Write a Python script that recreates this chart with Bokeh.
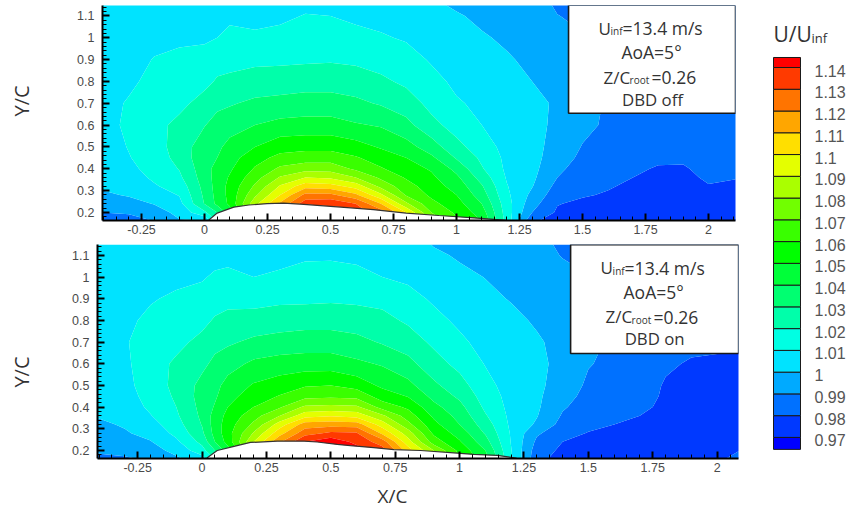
from bokeh.plotting import figure
from bokeh.layouts import column, row
from bokeh.models import Range1d, FixedTicker, NumeralTickFormatter, Label
from bokeh.core.properties import value
from bokeh.embed import file_html
from bokeh.resources import INLINE
import numpy as np

x_grid = [-0.41,-0.3,-0.2,-0.1,0,0.05,0.1,0.2,0.3,0.4,0.5,0.6,0.7,0.8,0.9,1.0,1.1,1.2,1.3,1.4,1.5,1.6,1.7,1.8,1.9,2.0,2.11]
y_grid = [0.16,0.2,0.24,0.28,0.32,0.36,0.4,0.45,0.5,0.6,0.7,0.8,0.9,1.0,1.1,1.15]

# U/Uinf per x column (DBD off)
u_off = [
[.984,.99,.9945,.998,1.0015,1.003,1.004,1.005,1.005,1.006,1.006,1.005,1.004,1.004,1.004,1.004],
[.986,.991,.996,1.001,1.004,1.006,1.008,1.0095,1.0105,1.012,1.011,1.008,1.006,1.005,1.004,1.004],
[.99,.995,1.0005,1.005,1.009,1.0115,1.013,1.015,1.016,1.017,1.016,1.013,1.0105,1.007,1.005,1.004],
[.999,1.003,1.007,1.0105,1.014,1.018,1.0205,1.023,1.024,1.0225,1.0175,1.015,1.0125,1.008,1.005,1.004],
[1.0,1.018,1.0305,1.032,1.0335,1.035,1.036,1.0375,1.036,1.0295,1.0235,1.0175,1.0135,1.0085,1.006,1.005],
[1.02,1.03,1.0425,1.0435,1.044,1.044,1.0435,1.04,1.038,1.034,1.0275,1.021,1.0165,1.01,1.0075,1.006],
[1.03,1.045,1.052,1.053,1.053,1.051,1.0485,1.046,1.043,1.036,1.029,1.022,1.017,1.012,1.0085,1.0065],
[1.07,1.08,1.087,1.078,1.0715,1.066,1.061,1.056,1.05,1.04,1.032,1.024,1.018,1.012,1.0065,1.005],
[1.1,1.105,1.112,1.10,1.091,1.081,1.072,1.063,1.056,1.043,1.033,1.025,1.018,1.013,1.008,1.005],
[1.13,1.132,1.136,1.123,1.106,1.09,1.076,1.065,1.057,1.044,1.034,1.026,1.0185,1.015,1.0105,1.008],
[1.14,1.14,1.138,1.1225,1.104,1.088,1.076,1.065,1.057,1.044,1.034,1.026,1.019,1.014,1.01,1.008],
[1.135,1.135,1.13,1.112,1.096,1.08,1.068,1.061,1.054,1.041,1.032,1.025,1.018,1.013,1.008,1.006],
[1.125,1.125,1.11,1.092,1.077,1.068,1.061,1.055,1.049,1.039,1.029,1.022,1.016,1.011,1.007,1.005],
[1.1,1.1,1.082,1.069,1.064,1.059,1.054,1.05,1.044,1.033,1.025,1.018,1.014,1.009,1.006,1.004],
[1.08,1.07,1.063,1.058,1.055,1.052,1.049,1.042,1.035,1.023,1.017,1.013,1.009,1.0065,1.004,1.002],
[1.062,1.058,1.054,1.05,1.046,1.042,1.037,1.029,1.023,1.016,1.011,1.008,1.005,1.003,1.001,.9985],
[1.05,1.045,1.04,1.035,1.031,1.026,1.021,1.018,1.015,1.01,1.008,1.006,1.004,1.001,.998,.9965],
[1.016,1.015,1.014,1.012,1.0105,1.009,1.008,1.0075,1.0065,1.0055,1.0045,1.003,1.001,.9985,.9965,.9955],
[.981,.99,.994,.9975,1.0005,1.002,1.003,1.0035,1.0035,1.003,1.002,1.0,.998,.996,.9945,.9935],
[.977,.9785,.9805,.984,.987,.99,.992,.9945,.996,.998,.999,.9975,.9955,.9925,.9902,.989],
[.975,.976,.978,.981,.983,.985,.986,.988,.9895,.9925,.9935,.993,.992,.9905,.9885,.9875],
[.973,.975,.977,.979,.981,.983,.9845,.986,.987,.9885,.989,.989,.9885,.988,.987,.986],
[.973,.974,.975,.977,.978,.98,.981,.983,.984,.985,.986,.986,.986,.986,.985,.985],
[.972,.973,.974,.975,.976,.978,.9795,.981,.982,.983,.984,.985,.985,.985,.985,.985],
[.972,.973,.974,.975,.976,.9775,.979,.9815,.983,.984,.985,.985,.985,.985,.985,.985],
[.973,.974,.975,.977,.9795,.9815,.983,.984,.985,.985,.985,.985,.985,.985,.985,.985],
[.973,.974,.975,.976,.978,.9805,.982,.984,.985,.985,.985,.985,.985,.985,.985,.985],
]

# U/Uinf per x column (DBD on)
u_on = [
[.988,.991,.993,.9955,.998,1.0005,1.002,1.003,1.004,1.005,1.005,1.004,1.003,1.003,1.003,1.003],
[.989,.992,.995,.999,1.001,1.003,1.004,1.006,1.007,1.008,1.009,1.0075,1.0055,1.004,1.003,1.003],
[.991,.996,.9995,1.003,1.006,1.0095,1.012,1.0135,1.015,1.016,1.015,1.0125,1.009,1.006,1.004,1.003],
[.998,1.003,1.008,1.0125,1.016,1.0185,1.02,1.0215,1.0225,1.0215,1.0175,1.015,1.012,1.007,1.004,1.003],
[1.005,1.016,1.023,1.028,1.0305,1.032,1.033,1.034,1.033,1.0275,1.0225,1.0175,1.0135,1.009,1.005,1.004],
[1.02,1.03,1.04,1.0435,1.0445,1.044,1.041,1.0385,1.037,1.0325,1.027,1.021,1.016,1.0115,1.0065,1.005],
[1.04,1.045,1.054,1.056,1.055,1.053,1.05,1.0465,1.0435,1.036,1.0285,1.0225,1.0175,1.0125,1.007,1.0055],
[1.08,1.085,1.09,1.081,1.072,1.066,1.06,1.055,1.051,1.042,1.032,1.024,1.0165,1.01,1.0075,1.006],
[1.12,1.12,1.118,1.106,1.0945,1.0795,1.0685,1.0605,1.055,1.044,1.034,1.025,1.018,1.011,1.008,1.0065],
[1.145,1.145,1.14,1.126,1.115,1.096,1.082,1.067,1.059,1.045,1.035,1.026,1.018,1.0125,1.009,1.0075],
[1.15,1.15,1.147,1.132,1.116,1.099,1.083,1.068,1.06,1.045,1.035,1.026,1.0185,1.013,1.009,1.0075],
[1.145,1.145,1.137,1.131,1.115,1.096,1.082,1.067,1.056,1.042,1.033,1.025,1.018,1.012,1.0085,1.007],
[1.135,1.135,1.125,1.108,1.095,1.082,1.066,1.055,1.048,1.039,1.029,1.023,1.017,1.01,1.007,1.0055],
[1.11,1.105,1.094,1.085,1.073,1.065,1.058,1.0495,1.043,1.033,1.025,1.0185,1.0135,1.008,1.005,1.004],
[1.09,1.08,1.065,1.058,1.053,1.048,1.043,1.037,1.032,1.024,1.018,1.013,1.0085,1.005,1.0015,.9995],
[1.06,1.057,1.051,1.046,1.04,1.0365,1.033,1.028,1.024,1.017,1.012,1.008,1.005,1.002,.999,.9975],
[1.045,1.04,1.034,1.029,1.025,1.021,1.018,1.0155,1.013,1.0095,1.0065,1.004,1.002,.9998,.9975,.9965],
[1.0115,1.0105,1.0095,1.009,1.008,1.0075,1.007,1.0065,1.006,1.005,1.004,1.002,.9995,.9975,.9955,.9945],
[.983,.985,.988,.9915,.9985,1.0005,1.0015,1.002,1.0025,1.0025,1.001,.999,.997,.9955,.9935,.9925],
[.976,.978,.98,.9835,.9865,.989,.991,.993,.995,.997,.9975,.996,.9945,.993,.9895,.9885],
[.973,.975,.977,.9795,.9825,.9845,.986,.9875,.9885,.9905,.9915,.9915,.991,.9902,.9885,.9875],
[.972,.974,.976,.978,.98,.982,.9835,.985,.986,.988,.989,.989,.988,.987,.986,.9855],
[.972,.973,.975,.977,.978,.98,.982,.984,.985,.987,.988,.988,.987,.986,.985,.985],
[.972,.973,.974,.975,.976,.977,.978,.9785,.979,.9815,.984,.985,.985,.985,.985,.985],
[.972,.973,.974,.974,.975,.975,.976,.9765,.977,.979,.9825,.984,.985,.985,.985,.985],
[.978,.976,.975,.974,.974,.975,.975,.976,.976,.978,.9825,.984,.985,.985,.985,.985],
[.985,.981,.977,.975,.975,.975,.975,.976,.976,.977,.982,.984,.985,.985,.985,.985],
]

airfoil_off_x = [.017,.05,.116,.176,.248,.314,.394,.5,.58,.67,.80,.93,1.07,1.15,1.2]
airfoil_off_y = [.165,.197,.224,.234,.24,.243,.237,.228,.221,.2124,.197,.186,.175,.168,.164]
airfoil_on_x = [.02,.059,.124,.188,.292,.396,.447,.525,.576,.667,.745,.849,.978,1.055,1.146,1.22]
airfoil_on_y = [.166,.2,.219,.237,.243,.243,.239,.228,.222,.213,.204,.2,.189,.182,.177,.165]

levels = [.97,.98,.99,1.0,1.01,1.02,1.03,1.04,1.05,1.06,1.07,1.08,1.09,1.1,1.11,1.12,1.13,1.14]
level_labels = ["0.97","0.98","0.99","1","1.01","1.02","1.03","1.04","1.05","1.06","1.07","1.08","1.09","1.1","1.11","1.12","1.13","1.14"]
band_edges = [.9,*levels,1.3]
bar_edges = [.9645,*levels,1.1446]
band_colors = ["#0000ff","#0039ff","#0071ff","#00aaff","#00e3ff","#00ffe3","#00ffaa","#00ff71","#00ff39",
               "#00ff00","#39ff00","#71ff00","#aaff00","#e4ff00","#ffdf00","#ffa600","#ff7400","#ff3a00","#ff0000"]
x_ticks = [-0.25,0,0.25,0.5,0.75,1,1.25,1.5,1.75,2]
x_minor = [round(-0.4+0.05*i,2) for i in range(51)]
y_ticks = [.2,.3,.4,.5,.6,.7,.8,.9,1,1.1]
y_minor = [round(.16+.02*i,2) for i in range(50)]

TICK_FONT = "Liberation Sans"
TXT_FONT = "Open Sans"

def panel(z, xr, yr, w, h, l, r, t, b, afx, afy, xzero, xscale, yref, yscale, state, box_left_px, box_bottom_px, right_px, text_dx, top_px):
    p = figure(width=w, height=h, x_range=Range1d(*xr), y_range=Range1d(*yr),
               output_backend="svg", toolbar_location=None,
               min_border_left=l, min_border_right=r, min_border_top=t, min_border_bottom=b)
    p.grid.visible = False
    p.outline_line_color = None
    c = p.contour(x_grid, y_grid, np.array(z).T, band_edges, fill_color=band_colors)
    c.line_renderer.visible = False
    p.patch(list(afx)+[afx[-1],afx[0]], list(afy)+[0.15,0.15], fill_color="white", line_color="#333333", line_width=1.2)
    for ax, ticks, minor, fmt in ((p.xaxis[0],x_ticks,x_minor,"0.[00]"),(p.yaxis[0],y_ticks,y_minor,"0.[0]")):
        ax.ticker = FixedTicker(ticks=ticks, minor_ticks=minor)
        ax.formatter = NumeralTickFormatter(format=fmt)
        ax.axis_line_color = "black"; ax.axis_line_width = 2
        ax.major_tick_in = 7; ax.major_tick_out = 0; ax.major_tick_line_width = 2; ax.major_tick_line_color = "black"
        ax.minor_tick_in = 4; ax.minor_tick_out = 0; ax.minor_tick_line_width = 1; ax.minor_tick_line_color = "black"
        ax.major_label_text_font = TICK_FONT; ax.major_label_text_font_size = "12.5px"; ax.major_label_text_color = "#4a4a4a"
    p.xaxis[0].major_label_standoff = 4
    p.yaxis[0].major_label_standoff = 8
    def X(px): return (px - xzero)/xscale
    def Y(py): return 0.2 + (yref - py)/yscale
    p.quad(left=X(box_left_px), right=X(right_px), top=Y(top_px), bottom=Y(box_bottom_px), fill_color="white", line_color="#1a1a1a", line_width=1.6)
    def T(px, py, s, size, align="left"):
        p.add_layout(Label(x=X(px), y=Y(py), text=s, text_font=TXT_FONT, text_font_size=f"{size}px",
                           text_color="#333333", text_align=align, text_baseline="alphabetic"))
    d, o = text_dx, top_px - 5
    T(598+d, 28+o, "U", 17); T(610+d, 31+o, "inf", 10); T(622+d, 28+o, "=13.4 m/s", 17.5)
    T(651+d, 52+o, "AoA=5°", 17.5, "center")
    T(603+d, 77+o, "Z/C", 17); T(629+d, 80+o, "root", 10); T(651+d, 77+o, "=0.26", 17.5)
    T(652+d, 99+o, state, 16.8, "center")
    return p

p1 = panel(u_off, (-0.405,2.107), (0.163,1.148), 720, 239, 62, 25, 5, 19,
           airfoil_off_x, airfoil_off_y, 204, 252, 212, 218, "DBD off", 568, 113, 735, 0, 5)
p2 = panel(u_on, (-0.406,2.083), (0.163,1.15), 720, 240, 57, 22, 5, 21,
           airfoil_on_x, airfoil_on_y, 201.5, 257.5, 450, 217, "DBD on", 570, 353, 738, 2, 244)

def gutter(w, h, px, py, s, size, angle=0.0):
    g = figure(width=w, height=h, x_range=Range1d(0,w), y_range=Range1d(h,0), output_backend="svg", toolbar_location=None,
               min_border_left=0, min_border_right=0, min_border_top=0, min_border_bottom=0, x_axis_location=None, y_axis_location=None)
    g.grid.visible = False
    g.outline_line_color = None
    g.text(x=[px], y=[py], text=[s], angle=angle, text_font=value(TXT_FONT), text_font_size=size, text_color="#333333",
           text_align="center", text_baseline="middle")
    return g
g1 = gutter(40, 239, 21, 106, "Y/C", "20px", 1.5708)
g2 = gutter(40, 240, 21, 382-239, "Y/C", "20px", 1.5708)
g3 = gutter(760, 30, 392, 16, "X/C", "19px")

# colour scale: frame covers the whole column so the heading can sit inside it
def bx(px): return (px-773)/27
def by(py): return 1.14 + (67-py)/2176
bar = figure(width=88, height=509, x_range=Range1d(bx(760),bx(848)), y_range=Range1d(by(509),by(0)),
             output_backend="svg", toolbar_location=None, min_border_left=0, min_border_right=0,
             min_border_top=0, min_border_bottom=0, x_axis_location=None, y_axis_location=None)
bar.grid.visible = False
bar.outline_line_color = None
bar.quad(left=0, right=1, bottom=bar_edges[:-1], top=bar_edges[1:], fill_color=band_colors, line_color="#1a1a1a", line_width=1)
bar.text(x=[bx(814)]*len(levels), y=levels, text=level_labels, text_font=value(TICK_FONT), text_font_size="16px",
         text_color="#555555", text_baseline="middle", y_offset=3)
bar.text(x=[bx(773)], y=[by(33)], text=["U/U"], text_font=value(TXT_FONT), text_font_size="21px", text_color="#333333", text_baseline="alphabetic")
bar.text(x=[bx(811)], y=[by(37)], text=["inf"], text_font=value(TXT_FONT), text_font_size="13px", text_color="#333333", text_baseline="alphabetic")

page = row(column(row(g1, p1, spacing=0), row(g2, p2, spacing=0), g3, spacing=0), bar, spacing=0)
open("out.html", "w").write(file_html(page, INLINE))
